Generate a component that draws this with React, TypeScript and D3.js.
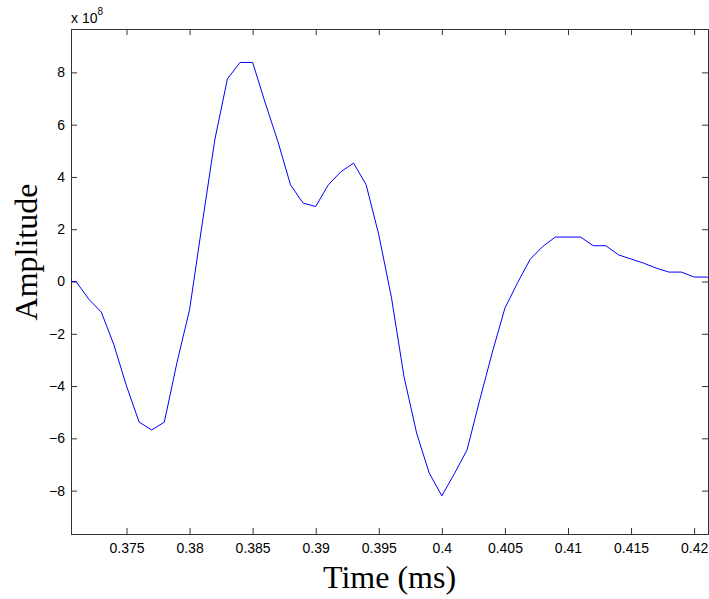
import React, { useEffect, useRef } from "react";
import * as d3 from "d3";

// sampled waveform, amplitude in units of 1e8
const times = [
  0.3706, 0.371, 0.372, 0.373, 0.374, 0.375, 0.376, 0.377, 0.378, 0.379,
  0.38, 0.381, 0.382, 0.383, 0.384, 0.385, 0.386, 0.387, 0.388, 0.389,
  0.39, 0.391, 0.392, 0.393, 0.394, 0.395, 0.396, 0.397, 0.398, 0.399,
  0.4, 0.401, 0.402, 0.403, 0.404, 0.405, 0.406, 0.407, 0.408, 0.409,
  0.41, 0.411, 0.412, 0.413, 0.414, 0.415, 0.416, 0.417, 0.418, 0.419,
  0.42, 0.421, 0.4211,
];
const amplitudes = [
  0, 0, -0.67, -1.17, -2.42, -4.0, -5.38, -5.68, -5.38, -3.1,
  -1.08, 2.2, 5.42, 7.75, 8.38, 8.38, 6.83, 5.36, 3.7, 3.0,
  2.87, 3.7, 4.2, 4.53, 3.7, 1.79, -0.6, -3.64, -5.8, -7.33,
  -8.2, -7.35, -6.44, -4.54, -2.71, -1.02, -0.05, 0.85, 1.34, 1.7,
  1.7, 1.7, 1.37, 1.37, 1.02, 0.86, 0.7, 0.51, 0.36, 0.36,
  0.17, 0.17, 0.15,
];
const xTicks = [0.375, 0.38, 0.385, 0.39, 0.395, 0.4, 0.405, 0.41, 0.415, 0.42];
const yTicks = [-8, -6, -4, -2, 0, 2, 4, 6, 8];

const width = 709,
  height = 599,
  margin = { top: 29, right: 1, bottom: 65, left: 71 };

const App: React.FC = () => {
  const ref = useRef<SVGSVGElement | null>(null);

  useEffect(() => {
    const svg = d3.select(ref.current);
    svg.selectAll("*").remove();

    const x = d3
      .scaleLinear()
      .domain([0.3706, 0.4211])
      .range([margin.left, width - margin.right]);
    const y = d3
      .scaleLinear()
      .domain([-9.66, 9.66])
      .range([height - margin.bottom, margin.top]);

    const tickFont = "'Liberation Sans', Arial, Helvetica, sans-serif";
    const fmtX = (d) => d3.format("~g")(d);

    const style = (g) => {
      g.selectAll("path").attr("stroke", "#333").attr("stroke-width", 1);
      g.selectAll("line").attr("stroke", "#333").attr("stroke-width", 1);
      g.selectAll("text")
        .attr("fill", "#000")
        .attr("font-family", tickFont)
        .attr("font-size", 14);
    };

    // bottom + top
    svg
      .append("g")
      .attr("transform", `translate(0,${height - margin.bottom})`)
      .call(
        d3.axisBottom(x).tickValues(xTicks).tickSize(-6).tickPadding(9).tickFormat(fmtX)
      )
      .call(style);
    svg
      .append("g")
      .attr("transform", `translate(0,${margin.top})`)
      .call(d3.axisTop(x).tickValues(xTicks).tickSize(-6).tickFormat(() => ""))
      .call(style);

    // left + right
    svg
      .append("g")
      .attr("transform", `translate(${margin.left},0)`)
      .call(d3.axisLeft(y).tickValues(yTicks).tickSize(-6).tickPadding(6))
      .call(style);
    svg
      .append("g")
      .attr("transform", `translate(${width - margin.right},0)`)
      .call(d3.axisRight(y).tickValues(yTicks).tickSize(-6).tickFormat(() => ""))
      .call(style);

    const line = d3
      .line<number>()
      .x((d, i) => x(times[i]))
      .y((d) => y(d));

    svg
      .append("path")
      .datum(amplitudes)
      .attr("fill", "none")
      .attr("stroke", "#0000ff")
      .attr("stroke-width", 1)
      .attr("stroke-linejoin", "round")
      .attr("d", line);

    // exponent label
    const exp = svg
      .append("text")
      .attr("x", margin.left)
      .attr("y", 23)
      .attr("font-family", tickFont)
      .attr("font-size", 14);
    exp.append("tspan").text("x 10");
    exp.append("tspan").attr("font-size", 10).attr("dy", -8).text("8");

    // axis titles
    svg
      .append("text")
      .attr("x", (margin.left + width - margin.right) / 2)
      .attr("y", 588)
      .attr("text-anchor", "middle")
      .attr("font-family", "'Liberation Serif', 'Times New Roman', serif")
      .attr("font-size", 32)
      .text("Time (ms)");

    svg
      .append("text")
      .attr("transform", "translate(37,252) rotate(-90)")
      .attr("text-anchor", "middle")
      .attr("font-family", "'Liberation Serif', 'Times New Roman', serif")
      .attr("font-size", 32)
      .text("Amplitude");
  }, []);

  return (
    <svg
      ref={ref}
      width={width}
      height={height}
      style={{ position: "absolute", left: 0, top: 0, background: "#fff" }}
    ></svg>
  );
};

export default App;
